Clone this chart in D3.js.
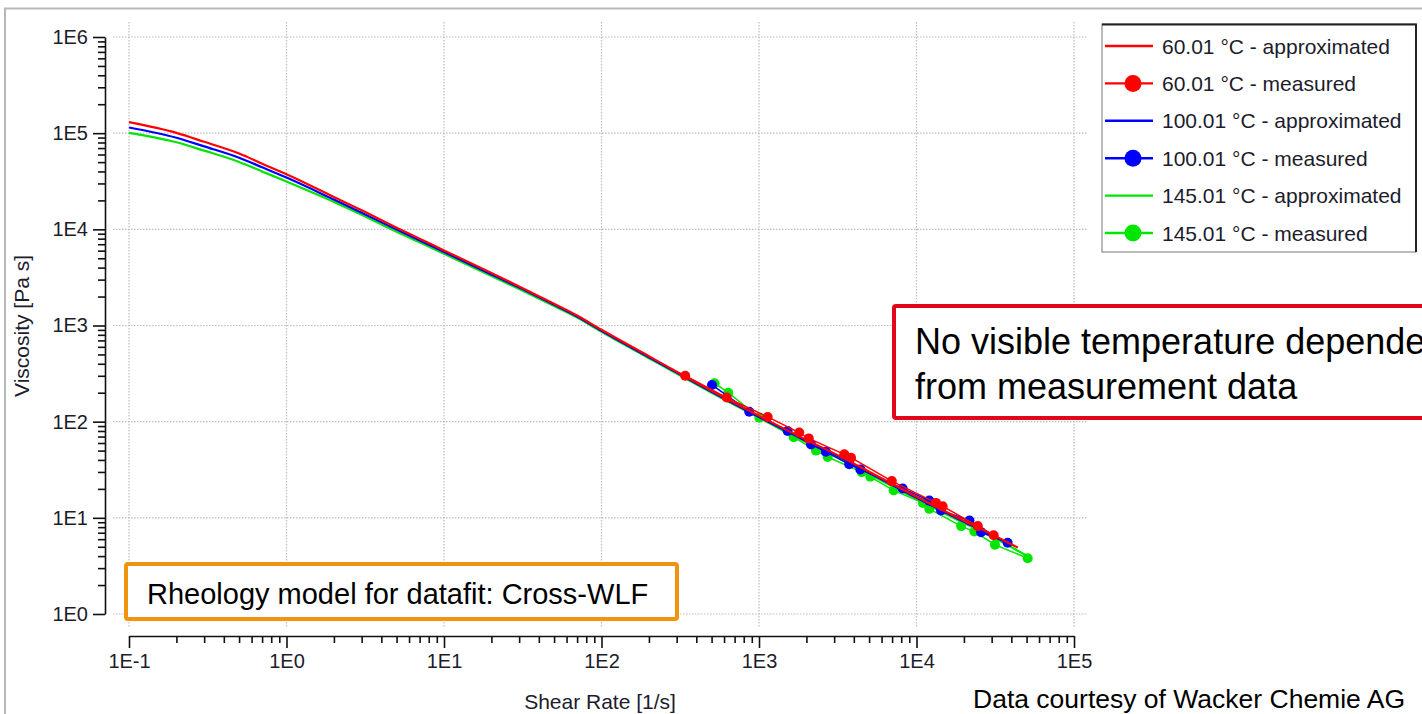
<!DOCTYPE html>
<html>
<head>
<meta charset="utf-8">
<script src="https://cdn.jsdelivr.net/npm/d3@7"></script>
<style>
  html, body { margin: 0; padding: 0; background: #fff; overflow: hidden; }
  svg { display: block; font-family: Arial, "Liberation Sans", sans-serif; }
</style>
</head>
<body>
<svg id="chart" width="1422" height="714"></svg>
<script>
// ---------------- data ----------------
const approxRates60 = [0.1, 0.2, 0.3, 0.5, 0.7, 1, 2, 3, 5, 7, 10, 20, 30, 50, 70, 100, 200, 300, 500, 1000, 2000, 3000, 5000, 10000, 20000, 30000, 44000];
const approxVisc60 = [130300, 100700, 81300, 61400, 48200, 37400, 21700, 15800, 10400, 8000, 6040, 3510, 2550, 1680, 1270, 902, 479, 331, 209, 115, 64.6, 46.8, 30.2, 16.6, 9.33, 6.76, 4.90];

const approxRates100 = [0.1, 0.2, 0.3, 0.5, 0.7, 1, 2, 3, 5, 7, 10, 20, 30, 50, 70, 100, 200, 300, 500, 1000, 2000, 3000, 5000, 10000, 20000, 30000, 40000];
const approxVisc100 = [114600, 89700, 72900, 55600, 44200, 34500, 20400, 14900, 9930, 7670, 5810, 3400, 2480, 1640, 1240, 881, 468, 324, 204, 112, 63.1, 45.7, 29.5, 16.2, 9.12, 6.61, 5.16];

const approxRates145 = [0.1, 0.2, 0.3, 0.5, 0.7, 1, 2, 3, 5, 7, 10, 20, 30, 50, 70, 100, 200, 300, 500, 1000, 2000, 3000, 5000, 10000, 20000, 30000, 50800];
const approxVisc145 = [100900, 80500, 65800, 50200, 40000, 31400, 19300, 14200, 9440, 7330, 5570, 3270, 2390, 1590, 1210, 861, 457, 316, 200, 110, 61.0, 44.2, 28.5, 15.7, 8.81, 6.38, 3.98];

const measRates60 = [340, 624, 1135, 1800, 2070, 3480, 3840, 6970, 13300, 14660, 24500, 30900];
const measVisc60 = [300, 178, 112, 77, 67, 45.7, 42.2, 24.1, 14.3, 13.2, 8.2, 6.6];

const measRates100 = [503, 867, 1520, 2140, 2660, 3740, 4400, 8170, 12050, 14320, 21700, 25700, 37900];
const measVisc100 = [241, 127, 80, 58, 48.6, 36, 31.9, 20.2, 15.1, 11.9, 9.4, 7.1, 5.5];

const measRates145 = [522, 638, 1005, 1660, 2300, 2730, 4490, 5090, 7160, 10970, 12050, 19200, 23300, 31500, 50800];
const measVisc145 = [251, 200, 110, 69, 50, 42.9, 29.9, 26.7, 19.3, 14.3, 12.4, 8.2, 7.2, 5.25, 3.8];

const xTickValues = [0.1, 1, 10, 100, 1000, 10000, 100000];
const yTickValues = [1, 10, 100, 1000, 10000, 100000, 1000000];

const legendLabels = ["60.01 °C - approximated", "60.01 °C - measured", "100.01 °C - approximated", "100.01 °C - measured", "145.01 °C - approximated", "145.01 °C - measured"];
const seriesColors = ["#ff0000", "#0000ff", "#00e600"];

const xTitle = "Shear Rate [1/s]";
const yTitle = "Viscosity [Pa s]";
const modelNote = "Rheology model for datafit: Cross-WLF";
const tempNote = ["No visible temperature dependence", "from measurement data"];
const credit = "Data courtesy of Wacker Chemie AG";

// ---------------- drawing ----------------
const svg = d3.select("#chart");
const FONT = 'Arial, "Liberation Sans", sans-serif';
const TXT = "#1c1c2c";

const x = d3.scaleLog().domain([0.1, 1e5]).range([129, 1074]);
const y = d3.scaleLog().domain([1, 1e6]).range([614, 37]);

// outer frame
svg.append("path")
  .attr("d", "M5,730 L5,8.5 L1440,8.5")
  .attr("fill", "none").attr("stroke", "#b8b8b8").attr("stroke-width", 2);

// minor tick values
function minors(lo, hi) {
  const out = [];
  for (let e = lo; e < hi; e++) for (let m = 2; m <= 9; m++) out.push(m * Math.pow(10, e));
  return out;
}
const xMinor = minors(-1, 5);
const yMinor = minors(0, 6);
const fmt = d => "1E" + Math.round(Math.log10(d));

// gridlines
const grid = svg.append("g");
grid.selectAll("line.h").data(yTickValues).join("line")
  .attr("x1", 113).attr("x2", 1087)
  .attr("y1", d => y(d)).attr("y2", d => y(d))
  .attr("stroke", "#bdbdbd").attr("stroke-width", 1.2).attr("stroke-dasharray", "1.5,1.5");
grid.selectAll("line.v").data(xTickValues).join("line")
  .attr("y1", 22).attr("y2", 628)
  .attr("x1", d => x(d)).attr("x2", d => x(d))
  .attr("stroke", "#bdbdbd").attr("stroke-width", 1.2).attr("stroke-dasharray", "1.5,1.5");

// y axis
const yAxisG = svg.append("g").attr("transform", "translate(105,0)");
yAxisG.append("g").call(d3.axisLeft(y).tickValues(yMinor).tickSize(7).tickSizeOuter(0).tickFormat(""))
  .call(g => g.select(".domain").remove());
yAxisG.append("g").call(d3.axisLeft(y).tickValues(yTickValues).tickSize(12).tickSizeOuter(0).tickPadding(5).tickFormat(fmt));
yAxisG.selectAll("line, path").attr("stroke", "#111").attr("stroke-width", 1.6);
yAxisG.selectAll("text").attr("font-size", 20).attr("font-family", FONT).attr("fill", TXT);

// x axis
const xAxisG = svg.append("g").attr("transform", "translate(0,636)");
xAxisG.append("g").call(d3.axisBottom(x).tickValues(xMinor).tickSize(7).tickSizeOuter(0).tickFormat(""))
  .call(g => g.select(".domain").remove());
xAxisG.append("g").call(d3.axisBottom(x).tickValues(xTickValues).tickSize(12).tickSizeOuter(0).tickPadding(6).tickFormat(fmt));
xAxisG.selectAll("line, path").attr("stroke", "#111").attr("stroke-width", 1.6);
xAxisG.selectAll("text").attr("font-size", 20).attr("font-family", FONT).attr("fill", TXT);

// axis titles
svg.append("text").attr("x", 600).attr("y", 709).attr("text-anchor", "middle")
  .attr("font-size", 21).attr("fill", TXT).text(xTitle);
svg.append("text").attr("transform", "translate(29,326) rotate(-90)").attr("text-anchor", "middle")
  .attr("font-size", 21).attr("fill", TXT).text(yTitle);

// series
const series = [
  { color: seriesColors[2], ar: approxRates145, av: approxVisc145, mr: measRates145, mv: measVisc145 },
  { color: seriesColors[1], ar: approxRates100, av: approxVisc100, mr: measRates100, mv: measVisc100 },
  { color: seriesColors[0], ar: approxRates60, av: approxVisc60, mr: measRates60, mv: measVisc60 }
];
const smoothLine = d3.line().x(d => x(d[0])).y(d => y(d[1])).curve(d3.curveMonotoneX);
const line = d3.line().x(d => x(d[0])).y(d => y(d[1]));
const plot = svg.append("g");
series.forEach(s => {
  const a = s.ar.map((r, i) => [r, s.av[i]]);
  const m = s.mr.map((r, i) => [r, s.mv[i]]);
  plot.append("path").datum(a).attr("d", smoothLine)
    .attr("fill", "none").attr("stroke", s.color).attr("stroke-width", 2.2);
  plot.append("path").datum(m).attr("d", line)
    .attr("fill", "none").attr("stroke", s.color).attr("stroke-width", 1.5);
  plot.append("g").selectAll("circle").data(m).join("circle")
    .attr("cx", d => x(d[0])).attr("cy", d => y(d[1])).attr("r", 5)
    .attr("fill", s.color);
});

// legend
const lg = svg.append("g");
lg.append("rect").attr("x", 1102).attr("y", 24).attr("width", 314).attr("height", 228)
  .attr("fill", "#fff").attr("stroke", "#777").attr("stroke-width", 1);
lg.append("path").attr("d", "M1102,24.5 L1416,24.5 L1416,252")
  .attr("fill", "none").attr("stroke", "#222").attr("stroke-width", 2);
const legendRows = legendLabels.map((label, i) => ({ label, color: seriesColors[Math.floor(i / 2)], measured: i % 2 === 1 }));
const rowY = d3.scalePoint().domain(d3.range(legendRows.length)).range([46, 233]);
const rows = lg.selectAll("g.row").data(legendRows).join("g")
  .attr("transform", (d, i) => `translate(0,${rowY(i)})`);
rows.append("line").attr("x1", 1105).attr("x2", 1153).attr("y1", 0).attr("y2", 0)
  .attr("stroke", d => d.color).attr("stroke-width", 2.4);
rows.filter(d => d.measured).append("circle").attr("cx", 1133).attr("cy", 0).attr("r", 8.5)
  .attr("fill", d => d.color);
rows.append("text").attr("x", 1162).attr("y", 0).attr("dy", "0.36em")
  .attr("font-size", 21).attr("fill", TXT).text(d => d.label);

// orange note box
svg.append("rect").attr("x", 126).attr("y", 564).attr("width", 551).attr("height", 55)
  .attr("rx", 2).attr("fill", "#fff").attr("stroke", "#f0930e").attr("stroke-width", 4);
svg.append("text").attr("x", 147).attr("y", 604).attr("font-size", 29).attr("fill", "#000").text(modelNote);

// red note box (runs off the right edge, as in the reference)
svg.append("rect").attr("x", 894).attr("y", 306).attr("width", 620).attr("height", 112)
  .attr("rx", 2).attr("fill", "#fff").attr("stroke", "#e3051b").attr("stroke-width", 4);
svg.append("text").attr("x", 915).attr("y", 354).attr("font-size", 36).attr("fill", "#000").text(tempNote[0]);
svg.append("text").attr("x", 915).attr("y", 399).attr("font-size", 36).attr("fill", "#000").text(tempNote[1]);

// credit
svg.append("text").attr("x", 973).attr("y", 708).attr("font-size", 26.5).attr("fill", "#000").text(credit);
</script>
</body>
</html>
